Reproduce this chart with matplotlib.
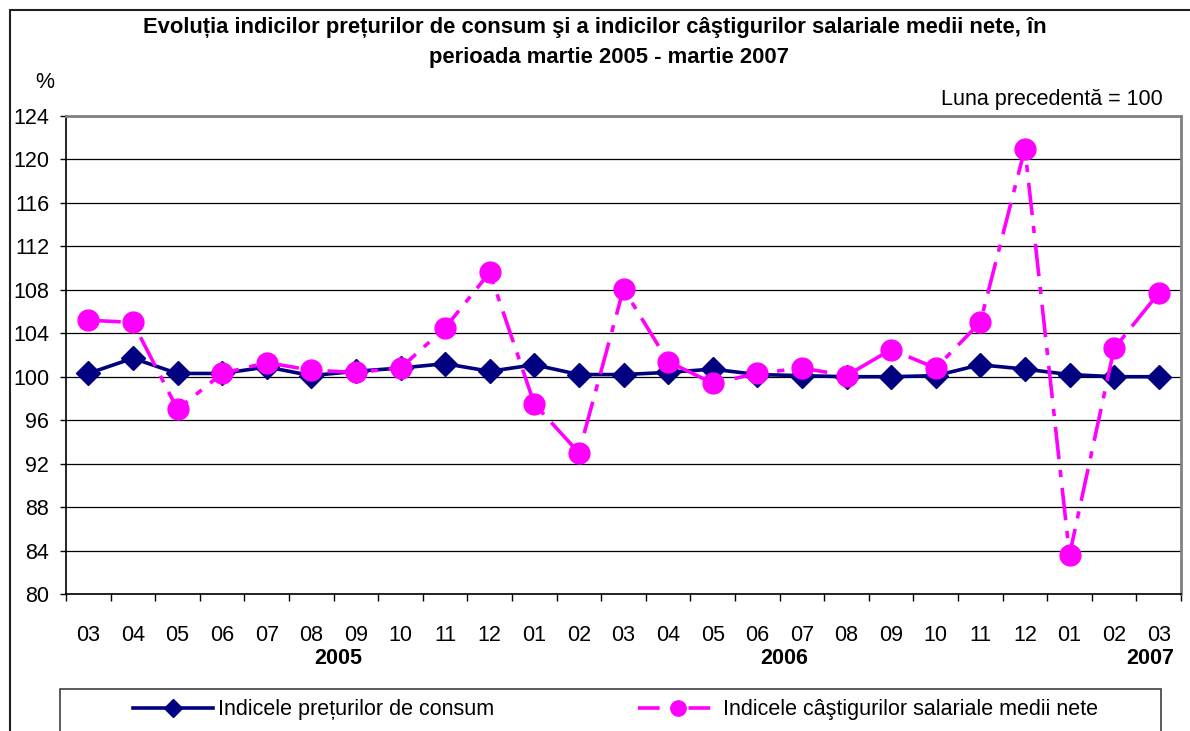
import matplotlib.pyplot as plt
import matplotlib.transforms as mtransforms
from matplotlib.lines import Line2D
from matplotlib.patches import Rectangle

plt.rcParams['font.family'] = ['Liberation Sans', 'DejaVu Sans']

# date
luni = ['03', '04', '05', '06', '07', '08', '09', '10', '11', '12', '01', '02',
        '03', '04', '05', '06', '07', '08', '09', '10', '11', '12', '01', '02', '03']
ipc = [100.3, 101.7, 100.3, 100.3, 100.9, 100.1, 100.5, 100.8, 101.2, 100.5, 101.1, 100.2,
       100.2, 100.4, 100.7, 100.2, 100.1, 100.0, 100.0, 100.1, 101.1, 100.7, 100.2, 100.0, 100.0]
castiguri = [105.2, 105.0, 97.0, 100.3, 101.3, 100.6, 100.4, 100.8, 104.5, 109.6, 97.5, 93.0,
             108.1, 101.4, 99.4, 100.3, 100.8, 100.1, 102.5, 100.8, 105.0, 121.0, 83.6, 102.6, 107.7]
ani = ['2005', '2006', '2007']
ani_poz = [5.6, 15.6, 23.8]

nume_ipc = 'Indicele prețurilor de consum'
nume_cast = 'Indicele câştigurilor salariale medii nete'

W, H = 1190, 731
fs = 15.5
fig = plt.figure(figsize=(W / 100, H / 100), dpi=100)
ax = fig.add_axes([66 / W, 1 - 594 / H, (1181 - 66) / W, (594 - 116) / H])

x = list(range(len(luni)))
ax.plot(x, ipc, color='#000080', lw=2.6, marker='D', ms=12, zorder=3)
ax.plot(x, castiguri, color='#FF00FF', lw=2.6, marker='o', ms=15,
        dashes=(9, 3, 2, 3), zorder=4)

ax.set_xlim(-0.5, len(luni) - 0.5)
ax.set_ylim(80, 124)
ax.set_yticks(range(80, 125, 4))
ax.yaxis.grid(True, color='black', lw=0.9)
ax.set_axisbelow(True)

# tick-uri intre categorii, etichete pe centru
ax.set_xticks([i - 0.5 for i in range(len(luni) + 1)])
ax.set_xticklabels([])
ax.set_xticks(x, minor=True)
ax.set_xticklabels(luni, minor=True)
ax.tick_params(axis='x', which='major', length=5, width=1, color='black')
ax.tick_params(axis='x', which='minor', length=0, pad=22, labelsize=fs)
ax.tick_params(axis='y', length=4, width=1, pad=8, labelsize=fs)

for s in ['left', 'bottom']:
    ax.spines[s].set_color('black')
    ax.spines[s].set_linewidth(1.2)
for s in ['top', 'right']:
    ax.spines[s].set_color('#808080')
    ax.spines[s].set_linewidth(2)

tr = mtransforms.blended_transform_factory(ax.transData, ax.transAxes)
for an, p in zip(ani, ani_poz):
    ax.text(p, -0.134, an, transform=tr, ha='center', va='center',
            fontsize=fs, fontweight='bold')

fig.text(0.5, 1 - 27 / H,
         'Evoluția indicilor prețurilor de consum şi a indicilor câştigurilor salariale medii nete, în',
         ha='center', va='center', fontsize=15.8, fontweight='bold')
fig.text(0.512, 1 - 58 / H, 'perioada martie 2005 - martie 2007',
         ha='center', va='center', fontsize=15.8, fontweight='bold')
fig.text(45 / W, 1 - 82 / H, '%', ha='center', va='center', fontsize=fs)
fig.text(1163 / W, 1 - 100 / H, 'Luna precedentă = 100', ha='right', va='center', fontsize=fs)

# chenarul graficului si al legendei
fig.add_artist(Rectangle((10 / W, -0.1), 1.1, 1 - 10 / H + 0.1, transform=fig.transFigure,
                         fill=False, edgecolor='#202020', lw=1.5, clip_on=False))
fig.add_artist(Rectangle((60 / W, -0.1), (1161 - 60) / W, 1 - 689 / H + 0.1,
                         transform=fig.transFigure, fill=False, edgecolor='#404040',
                         lw=1.2, clip_on=False))

h1 = Line2D([], [], color='#000080', lw=2.6, marker='D', ms=9)
h2 = Line2D([], [], color='#FF00FF', lw=2.6, marker='o', ms=11, dashes=(6, 3, 2, 3))
fig.legend([h1, h2], [nume_ipc, nume_cast], loc='center left',
           bbox_to_anchor=(133 / W, 1 - 710 / H), ncol=2, frameon=False,
           handlelength=3.7, handletextpad=0.25, columnspacing=6.7,
           borderpad=0, borderaxespad=0, fontsize=fs)

fig.savefig('out.png', dpi=100)
